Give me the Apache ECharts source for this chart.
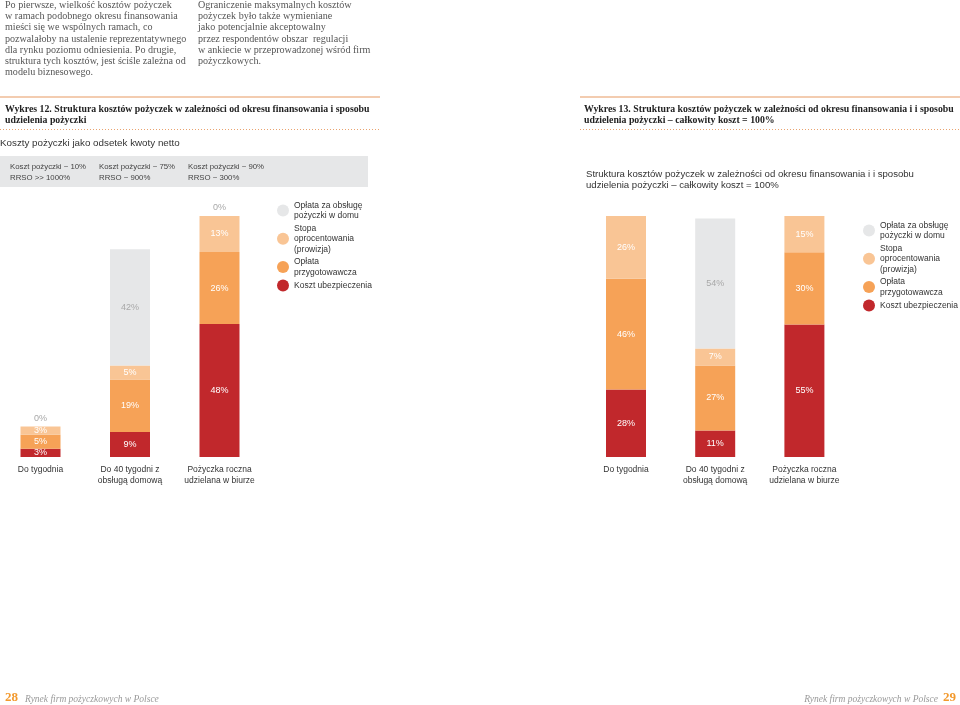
<!DOCTYPE html>
<html><head><meta charset="utf-8">
<script src="https://cdn.jsdelivr.net/npm/echarts@6/dist/echarts.min.js"></script>
<style>html,body{margin:0;padding:0;background:#fff}#c{width:960px;height:705px}</style>
</head><body><div id="c"></div>
<script>
const categories = ['Do tygodnia', 'Do 40 tygodni z\nobsługą domową', 'Pożyczka roczna\nudzielana w biurze'];
const seriesNames = ['Koszt ubezpieczenia', 'Opłata\nprzygotowawcza', 'Stopa\noprocentowania\n(prowizja)', 'Opłata za obsługę\npożyczki w domu'];
// Wykres 12 – koszty jako odsetek kwoty netto
const c12Insurance = [3, 9, 48];
const c12Prep = [5, 19, 26];
const c12Rate = [3, 5, 13];
const c12Home = [0, 42, 0];
// Wykres 13 – całkowity koszt = 100%
const c13Insurance = [28, 11, 55];
const c13Prep = [46, 27, 30];
const c13Rate = [26, 7, 15];
const c13Home = [0, 54, 0];
const boxLabels = ['Koszt pożyczki ~ 10%\nRRSO >> 1000%', 'Koszt pożyczki ~ 75%\nRRSO ~ 900%', 'Koszt pożyczki ~ 90%\nRRSO ~ 300%'];

const colors = ['#C1282C', '#F6A257', '#F9C595', '#E6E7E8'];
const SANS = '"Liberation Sans", Arial, sans-serif';
const SERIF = '"Liberation Serif", "DejaVu Serif", serif';

function mkData(arr, showZero) {
  return arr.map(v => {
    const d = {value: v};
    if (v === 0) {
      d.label = showZero ? {show: true, position: 'top', distance: 4, color: '#a8a8a8'} : {show: false};
    }
    return d;
  });
}
function mkSeries(arrs, stack, axis, showZero) {
  return arrs.map((arr, i) => ({
    name: seriesNames[i], type: 'bar', stack: stack, xAxisIndex: axis, yAxisIndex: axis,
    barWidth: 40, itemStyle: {color: colors[i]},
    label: {show: true, position: 'inside', fontFamily: SANS, fontSize: 9,
      color: i === 3 ? '#a8a8a8' : '#fff', formatter: p => p.value + '%'},
    emphasis: {disabled: true},
    data: mkData(arr, showZero && i === 3)
  }));
}

const para1 = ['Po pierwsze, wielkość kosztów pożyczek', 'w ramach podobnego okresu finansowania', 'mieści się we wspólnych ramach, co', 'pozwalałoby na ustalenie reprezentatywnego', 'dla rynku poziomu odniesienia. Po drugie,', 'struktura tych kosztów, jest ściśle zależna od', 'modelu biznesowego.'];
const para2 = ['Ograniczenie maksymalnych kosztów', 'pożyczek było także wymieniane', 'jako potencjalnie akceptowalny', 'przez respondentów obszar  regulacji', 'w ankiecie w przeprowadzonej wśród firm', 'pożyczkowych.'];

function txt(x, y, text, style) {
  return {type: 'text', x: x, y: y, style: Object.assign({text: text, fill: '#333', fontFamily: SANS, fontSize: 10, textVerticalAlign: 'middle'}, style)};
}
const graphic = [];
graphic.push(txt(5, 0, para1.join('\n'), {fontFamily: SERIF, fontSize: 10.1, lineHeight: 11.1, fill: '#555', textVerticalAlign: 'top'}));
graphic.push(txt(198, 0, para2.join('\n'), {fontFamily: SERIF, fontSize: 10.1, lineHeight: 11.1, fill: '#555', textVerticalAlign: 'top'}));
// header lines
graphic.push({type: 'line', shape: {x1: 0, y1: 97, x2: 380, y2: 97}, style: {stroke: '#E79A62', lineWidth: 1.2}});
graphic.push({type: 'line', shape: {x1: 580, y1: 97, x2: 960, y2: 97}, style: {stroke: '#E79A62', lineWidth: 1.2}});
graphic.push({type: 'line', shape: {x1: 0, y1: 129.5, x2: 380, y2: 129.5}, style: {stroke: '#E9A36F', lineWidth: 1, lineDash: [1, 2]}});
graphic.push({type: 'line', shape: {x1: 580, y1: 129.5, x2: 960, y2: 129.5}, style: {stroke: '#E9A36F', lineWidth: 1, lineDash: [1, 2]}});
graphic.push(txt(5, 104, 'Wykres 12. Struktura kosztów pożyczek w zależności od okresu finansowania i sposobu\nudzielenia pożyczki', {fontFamily: SERIF, fontWeight: 'bold', fontSize: 9.8, lineHeight: 11, fill: '#222', textVerticalAlign: 'top'}));
graphic.push(txt(584, 104, 'Wykres 13. Struktura kosztów pożyczek w zależności od okresu finansowania i i sposobu\nudzielenia pożyczki – całkowity koszt = 100%', {fontFamily: SERIF, fontWeight: 'bold', fontSize: 9.8, lineHeight: 11, fill: '#222', textVerticalAlign: 'top'}));
graphic.push(txt(0, 143, 'Koszty pożyczki jako odsetek kwoty netto', {fontSize: 9.8, fill: '#333'}));
graphic.push({type: 'rect', shape: {x: 0, y: 156, width: 368, height: 31}, style: {fill: '#E6E7E8'}});
[10, 99, 188].forEach((x, i) => graphic.push(txt(x, 172, boxLabels[i], {fontSize: 7.8, lineHeight: 11, fill: '#444'})));
graphic.push(txt(586, 180, 'Struktura kosztów pożyczek w zależności od okresu finansowania i i sposobu\nudzielenia pożyczki – całkowity koszt = 100%', {fontSize: 9.6, lineHeight: 11, fill: '#333'}));
// footer
graphic.push(txt(5, 698, '28', {fontFamily: SERIF, fontWeight: 'bold', fontSize: 13, fill: '#F39A2E'}));
graphic.push(txt(25, 699, 'Rynek firm pożyczkowych w Polsce', {fontFamily: SERIF, fontStyle: 'italic', fontSize: 9.5, fill: '#999'}));
graphic.push(txt(943, 698, '29', {fontFamily: SERIF, fontWeight: 'bold', fontSize: 13, fill: '#F39A2E'}));
graphic.push(txt(938, 699, 'Rynek firm pożyczkowych w Polsce', {fontFamily: SERIF, fontStyle: 'italic', fontSize: 9.5, fill: '#999', textAlign: 'right'}));

const legendNames = [seriesNames[3], seriesNames[2], seriesNames[1], seriesNames[0]];
const legendBase = {orient: 'vertical', icon: 'circle', itemWidth: 12, itemHeight: 12, itemGap: 2, selectedMode: false,
  textStyle: {fontFamily: SANS, fontSize: 8.5, lineHeight: 10.5, color: '#333'}, data: legendNames};
const xBase = {type: 'category', data: categories, boundaryGap: false, axisLine: {show: false}, axisTick: {show: false},
  axisLabel: {fontFamily: SANS, fontSize: 8.5, lineHeight: 11, color: '#333', margin: 7, interval: 0}};
const yBase = {type: 'value', min: 0, max: 100, show: false, splitLine: {show: false}};

const chart = echarts.init(document.getElementById('c'));
chart.setOption({
  animation: false,
  graphic: graphic,
  legend: [Object.assign({left: 272, top: 195}, legendBase), Object.assign({left: 858, top: 215}, legendBase)],
  grid: [{left: 40.5, width: 179, top: 180, bottom: 248}, {left: 626, width: 178.4, top: 216, bottom: 248}],
  xAxis: [Object.assign({gridIndex: 0}, xBase), Object.assign({gridIndex: 1}, xBase)],
  yAxis: [Object.assign({gridIndex: 0}, yBase), Object.assign({gridIndex: 1}, yBase)],
  series: mkSeries([c12Insurance, c12Prep, c12Rate, c12Home], 'a', 0, true)
    .concat(mkSeries([c13Insurance, c13Prep, c13Rate, c13Home], 'b', 1, false))
});
</script></body></html>
